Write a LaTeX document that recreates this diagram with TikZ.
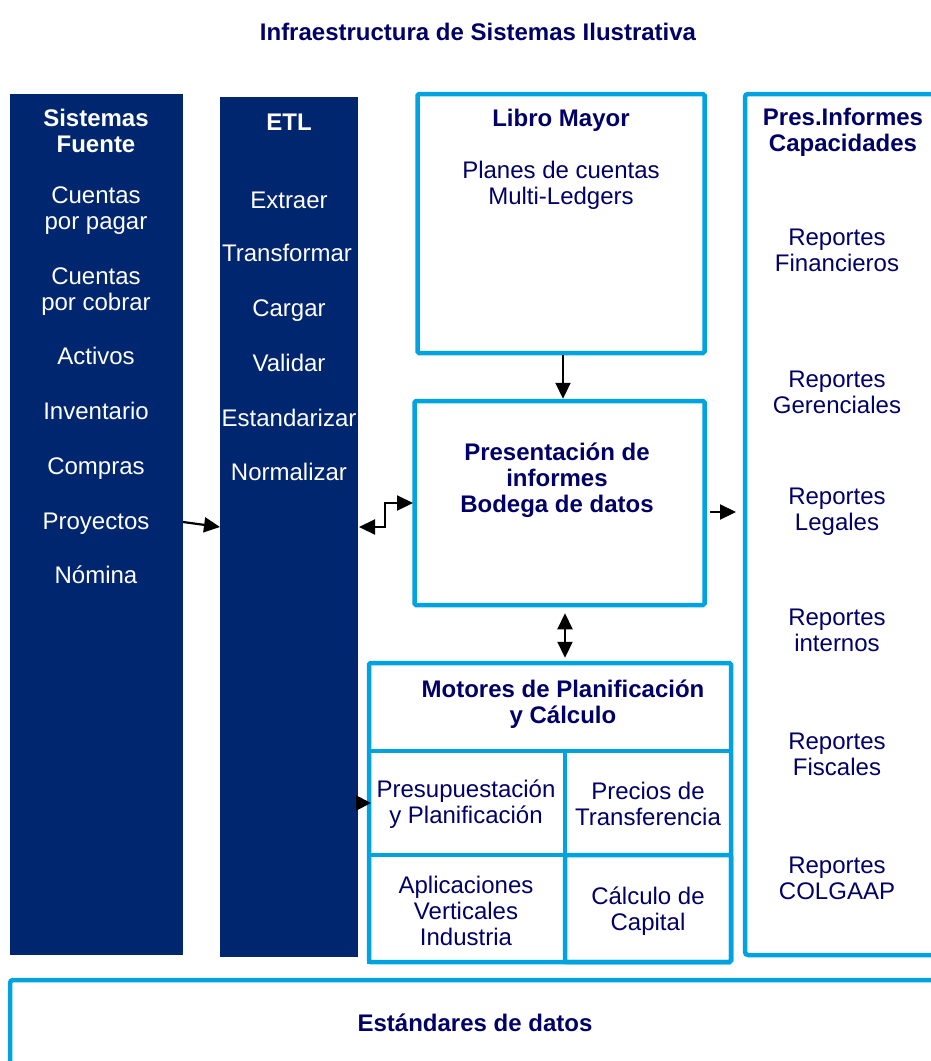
\documentclass[tikz,border=0pt]{standalone}
\usepackage{fontspec}
\setmainfont{Liberation Sans}
\usetikzlibrary{arrows.meta}
\definecolor{navyfill}{RGB}{0,38,112}
\definecolor{navytext}{RGB}{0,0,102}
\definecolor{lblue}{RGB}{0,163,224}
\tikzset{
  darkcol/.style={fill=navyfill, draw=none, rectangle, inner sep=0},
  bluebox/.style={draw=lblue, line width=4.5pt, rectangle, inner sep=0, rounded corners=1.5pt},
  wtxt/.style={text=white, font=\fontsize{24}{26}\selectfont, align=center, inner sep=0},
  wbold/.style={wtxt, font=\fontsize{24}{26}\selectfont\bfseries},
  btxt/.style={text=navytext, font=\fontsize{24}{26}\selectfont, align=center, inner sep=0},
  bbold/.style={btxt, font=\fontsize{24}{26}\selectfont\bfseries},
  conn/.style={line width=2.2pt, -{Triangle[length=16pt,width=15pt]}},
  dconn/.style={line width=2.2pt, {Triangle[length=16pt,width=15pt]}-{Triangle[length=16pt,width=15pt]}},
}
\begin{document}
\begin{tikzpicture}[x=1pt,y=-1pt]
\useasboundingbox (0,0) rectangle (931,1061);
\clip (0,0) rectangle (931,1061);
% title
\node[bbold] (title) at (478,32) {Infraestructura de Sistemas Ilustrativa};
% dark columns
\node[darkcol, minimum width=173, minimum height=861] (fuente) at (96.5,524.5) {};
\node[darkcol, minimum width=138, minimum height=860] (etl) at (289,527) {};
% Sistemas Fuente texts
\node[wbold] (fh) at (96,131) {Sistemas\\Fuente};
\node[wtxt] (f1) at (96,211) {Cuentas\\por pagar};
\node[wtxt] (f2) at (96,292) {Cuentas\\por cobrar};
\node[wtxt] (f3) at (96,356) {Activos};
\node[wtxt] (f4) at (96,411) {Inventario};
\node[wtxt] (f5) at (96,469) {Compras};
\node[wtxt] (f6) at (96,524) {Proyectos};
\node[wtxt] (f7) at (96,575) {Nómina};
% ETL texts
\node[wbold] (eh) at (289,122) {ETL};
\node[wtxt] (e1) at (289,200) {Extraer};
\node[wtxt] (e2) at (287,253) {Transformar};
\node[wtxt] (e3) at (289,311) {Cargar};
\node[wtxt] (e4) at (289,363) {Validar};
\node[wtxt] (e5) at (289,418) {Estandarizar};
\node[wtxt] (e6) at (289,472) {Normalizar};
% Libro Mayor
\node[bluebox, minimum width=287, minimum height=259] (libro) at (561,223.5) {};
\node[bbold] (lh) at (561,120) {Libro Mayor};
\node[btxt] (lt) at (561,185) {Planes de cuentas\\Multi-Ledgers};
% Presentacion
\node[bluebox, minimum width=290, minimum height=204] (pres) at (559.5,503) {};
\node[bbold] (pt) at (557,480) {Presentación de\\informes\\Bodega de datos};
% Motores
\node[bluebox, minimum width=362, minimum height=299] (mot) at (550,812.5) {};
\node[bbold] (mt) at (563,704) {Motores de Planificación\\y Cálculo};
\node[bluebox, minimum width=196, minimum height=104, rounded corners=0] (c1) at (467,803) {};
\node[bluebox, minimum width=166, minimum height=104, rounded corners=0] (c2) at (648,803) {};
\node[bluebox, minimum width=196, minimum height=107, rounded corners=0] (c3) at (467,908.5) {};
\node[bluebox, minimum width=166, minimum height=107] (c4) at (648,908.5) {};
\node[btxt] (c1t) at (466,804) {Presupuestación\\y Planificación};
\node[btxt] (c2t) at (648,804) {Precios de\\Transferencia};
\node[btxt] (c3t) at (466,911) {Aplicaciones\\Verticales\\Industria};
\node[btxt] (c4t) at (648,911) {Cálculo de\\Capital};
% Pres.Informes
\node[bluebox, minimum width=220, minimum height=861, rounded corners=3pt] (cap) at (855,524.5) {};
\node[bbold] (ch) at (843,132) {Pres.Informes\\Capacidades};
\node[btxt] (r1) at (837,250) {Reportes\\Financieros};
\node[btxt] (r2) at (837,392) {Reportes\\Gerenciales};
\node[btxt] (r3) at (837,512) {Reportes\\Legales};
\node[btxt] (r4) at (837,630) {Reportes\\internos};
\node[btxt] (r5) at (837,754) {Reportes\\Fiscales};
\node[btxt] (r6) at (837,878) {Reportes\\COLGAAP};
% Estandares
\node[bluebox, minimum width=960, minimum height=140, rounded corners=3pt] (std) at (490,1050) {};
\node[bbold] (st) at (475,1023) {Estándares de datos};
% connectors
\coordinate (a1s) at (183,522);
\coordinate (a1e) at (220,527);
\draw[conn] (a1s) -- (a1e);
\coordinate (d1) at (413,503);
\coordinate (d2) at (385,503);
\coordinate (d3) at (385,527);
\coordinate (d4) at (359,527);
\draw[dconn] (d1) -- (d2) -- (d3) -- (d4);
\draw[conn] ([xshift=2pt]libro.south) -- ([xshift=3.5pt]pres.north);
\draw[dconn] ([xshift=5.5pt,yshift=-6pt]pres.south) -- ([xshift=15pt,yshift=3pt]mot.north);
\coordinate (a5s) at (710,512);
\coordinate (a5e) at (736,512);
\draw[conn] (a5s) -- (a5e);
\coordinate (a6s) at (356,803);
\coordinate (a6e) at (371,803);
\draw[line width=2.2pt, -{Triangle[length=15pt,width=15pt]}] (a6s) -- (a6e);
\end{tikzpicture}
\end{document}
